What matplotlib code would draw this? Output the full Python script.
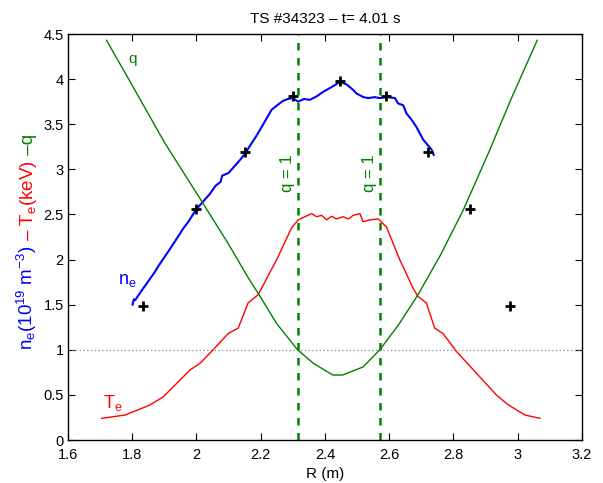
import matplotlib
matplotlib.use("Agg")
import matplotlib.pyplot as plt

plt.rcParams['font.family'] = ['Liberation Sans', 'DejaVu Sans']
plt.rcParams['mathtext.fontset'] = 'custom'
plt.rcParams['mathtext.rm'] = 'Liberation Sans'
plt.rcParams['mathtext.it'] = 'Liberation Sans:italic'

# ---- data ----
ne_R = [1.801, 1.805, 1.809, 1.83, 1.85, 1.87, 1.88, 1.918, 1.94, 1.96, 1.975, 1.998, 2.02,
        2.04, 2.06, 2.075, 2.08, 2.10, 2.115, 2.13, 2.151, 2.17, 2.19, 2.208, 2.234, 2.255,
        2.27, 2.285, 2.30, 2.317, 2.335, 2.353, 2.375, 2.395, 2.42, 2.447, 2.468, 2.485,
        2.499, 2.52, 2.535, 2.555, 2.571, 2.595, 2.618, 2.628, 2.644, 2.654, 2.67, 2.685,
        2.706, 2.72, 2.732, 2.739]
ne = [1.50, 1.56, 1.55, 1.66, 1.76, 1.86, 1.92, 2.12, 2.24, 2.35, 2.42, 2.55, 2.64,
      2.72, 2.82, 2.86, 2.93, 2.96, 3.02, 3.08, 3.17, 3.28, 3.39, 3.50, 3.66, 3.72,
      3.76, 3.78, 3.79, 3.75, 3.78, 3.77, 3.81, 3.86, 3.91, 3.97, 3.94, 3.89,
      3.84, 3.80, 3.79, 3.80, 3.79, 3.80, 3.79, 3.73, 3.71, 3.62, 3.55, 3.47,
      3.33, 3.27, 3.22, 3.16]

Te_R = [1.705, 1.778, 1.855, 1.897, 1.98, 2.011, 2.052, 2.099, 2.130, 2.161, 2.192, 2.25,
        2.296, 2.317, 2.338, 2.359, 2.374, 2.39, 2.405, 2.421, 2.436, 2.457, 2.473, 2.488,
        2.509, 2.519, 2.54, 2.566, 2.592, 2.633, 2.675, 2.69, 2.716, 2.727, 2.742, 2.768,
        2.81, 2.872, 2.934, 2.971, 3.023, 3.07]
Te = [0.24, 0.277, 0.388, 0.48, 0.776, 0.85, 1.0, 1.18, 1.24, 1.52, 1.61, 2.0,
      2.35, 2.44, 2.475, 2.51, 2.475, 2.49, 2.44, 2.48, 2.45, 2.475, 2.45, 2.49,
      2.51, 2.42, 2.44, 2.45, 2.36, 2.0, 1.68, 1.59, 1.52, 1.40, 1.24, 1.18,
      0.98, 0.74, 0.50, 0.39, 0.277, 0.24]

q_R = [1.72, 1.80, 1.90, 2.021, 2.10, 2.161, 2.195, 2.25, 2.315, 2.364, 2.425, 2.455,
       2.519, 2.571, 2.63, 2.69, 2.76, 2.831, 2.882, 2.914, 2.98, 3.061]
q = [4.43, 3.93, 3.30, 2.62, 2.17, 1.80, 1.61, 1.29, 1.0, 0.85, 0.72, 0.72,
     0.81, 1.0, 1.28, 1.61, 2.05, 2.55, 2.96, 3.22, 3.78, 4.43]

pts_R = [1.834, 1.998, 2.151, 2.301, 2.447, 2.59, 2.722, 2.853, 2.978]
pts_ne = [1.48, 2.56, 3.19, 3.81, 3.98, 3.81, 3.19, 2.56, 1.48]

q1_R = [2.315, 2.571]

xticks = [1.6, 1.8, 2.0, 2.2, 2.4, 2.6, 2.8, 3.0, 3.2]
xticklabels = ['1.6', '1.8', '2', '2.2', '2.4', '2.6', '2.8', '3', '3.2']
yticks = [0, 0.5, 1, 1.5, 2, 2.5, 3, 3.5, 4, 4.5]
yticklabels = ['0', '0.5', '1', '1.5', '2', '2.5', '3', '3.5', '4', '4.5']

green = (0, 0.5, 0)

fig = plt.figure(figsize=(6.03, 4.83), dpi=100)
ax = fig.add_axes([0.1128, 0.089, 0.852, 0.8406])

ax.axhline(1, color='0.55', lw=0.9, ls=(0, (1, 2)))
ax.plot(ne_R, ne, color='blue', lw=1.5)
ax.plot(Te_R, Te, color='red', lw=1.0)
ax.plot(q_R, q, color=green, lw=1.0)
ax.plot(pts_R, pts_ne, ls='none', marker='+', ms=7, mew=2, color='black')
for r in q1_R:
    ax.axvline(r, color=green, lw=1.8, ls=(0, (3, 3)))

ax.text(2.285, 2.96, 'q = 1', rotation=90, color=green, fontsize=12, ha='center', va='center')
ax.text(2.540, 2.96, 'q = 1', rotation=90, color=green, fontsize=12, ha='center', va='center')
ax.text(1.787, 4.18, 'q', color=green, fontsize=11, ha='left', va='baseline')
ax.text(1.71, 0.36, r'T$_\mathregular{e}$', color='red', fontsize=13, ha='left', va='baseline')
ax.text(1.756, 1.73, r'n$_\mathregular{e}$', color='blue', fontsize=13, ha='left', va='baseline')

ax.set_xlim(1.6, 3.2)
ax.set_ylim(0, 4.5)
ax.set_xticks(xticks)
ax.set_xticklabels(xticklabels)
ax.set_yticks(yticks)
ax.set_yticklabels(yticklabels)
ax.tick_params(direction='in', length=5, top=True, right=True, labelsize=10.5, width=0.8)
ax.tick_params(axis='x', pad=6)
ax.tick_params(axis='y', pad=3)
for s in ax.spines.values():
    s.set_linewidth(1.0)
ax.set_xlabel('R (m)', fontsize=11, labelpad=3)
ax.set_title('TS #34323 – t= 4.01 s', fontsize=11, pad=8)

# multi-coloured y label
parts = [(r'n$_\mathregular{e}$(10$^\mathregular{19}$ m$^\mathregular{-3}$)', 'blue'),
         (r' – T$_\mathregular{e}$(keV)', 'red'),
         (' –q', green)]
fig.canvas.draw()
renderer = fig.canvas.get_renderer()
x0 = 33 / 603
y0 = (483 - 350) / 483
ycur = y0
for txt, col in parts:
    t = fig.text(x0, ycur, txt, rotation=90, rotation_mode='anchor', color=col,
                 fontsize=13.5, ha='left', va='baseline')
    bb = t.get_window_extent(renderer)
    ycur = ycur + bb.height / (483)

fig.savefig('out.png', dpi=100)
